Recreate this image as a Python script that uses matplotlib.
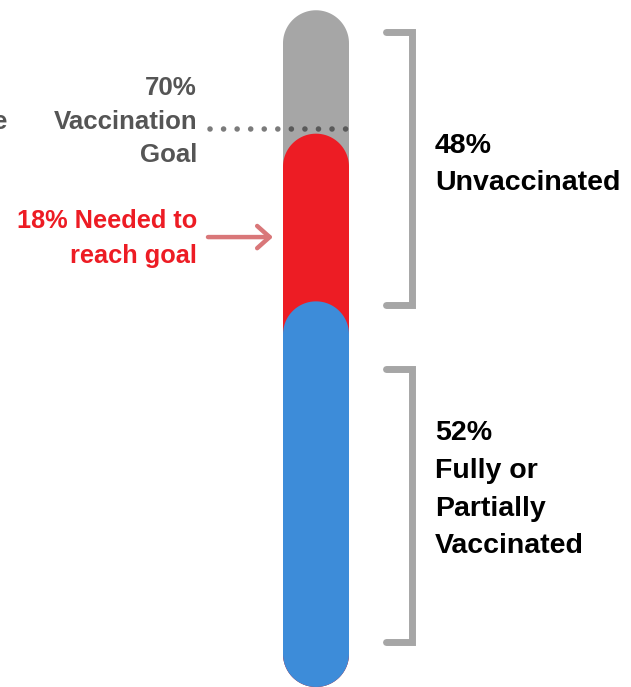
import numpy as np
import matplotlib
matplotlib.use("Agg")
import matplotlib.pyplot as plt
from matplotlib.patches import Polygon

# values shown on the thermometer
vaccinated = 52
needed = 18
goal = vaccinated + needed
unvaccinated = 100 - vaccinated

goal_label = f"{goal}%\nVaccination\nGoal"
needed_label = f"{needed}% Needed to\nreach goal"
unvacc_label = f"{unvaccinated}%\nUnvaccinated"
vacc_label = f"{vaccinated}%\nFully or\nPartially\nVaccinated"

# colours
GRAY = "#a6a6a6"
RED = "#ed1c24"
BLUE = "#3d8cd9"
ARROW = "#d97779"
TEXT_GRAY = "#555555"

# visible window of the bar (percent units) and top of the gray track
Y_LO, Y_HI = 10.6, 84.35
TRACK_TOP = 83.25

plt.rcParams["font.family"] = ["Liberation Sans", "DejaVu Sans"]
plt.rcParams["font.weight"] = "bold"

fig = plt.figure(figsize=(6.31, 6.87), dpi=100)
ax = fig.add_axes([0, 0, 1, 1])
ax.set_xlim(0, 631)
ax.set_ylim(Y_LO, Y_HI)
ax.axis("off")

bar_x0, bar_x1 = 283, 349
rx = (bar_x1 - bar_x0) / 2
ry = rx * (Y_HI - Y_LO) / 687


def pill(y0, y1, color):
    t = np.linspace(0, np.pi, 60)
    cx = (bar_x0 + bar_x1) / 2
    top = np.column_stack([cx + rx * np.cos(t), y1 - ry + ry * np.sin(t)])
    bot = np.column_stack([cx - rx * np.cos(t), y0 + ry - ry * np.sin(t)])
    ax.add_patch(Polygon(np.vstack([top, bot]), closed=True, facecolor=color, lw=0, zorder=2))


pill(Y_LO, TRACK_TOP, GRAY)
pill(Y_LO, goal, RED)
pill(Y_LO, vaccinated, BLUE)

# dotted goal line
ax.plot([210, 349], [goal + 0.55, goal + 0.55], color="#2b2b2b", alpha=0.62, lw=4.0,
        linestyle=(0, (0.01, 2.43)), dash_capstyle="round", zorder=3)


def bracket(y0, y1):
    ax.plot([385.5, 411.5, 411.5, 385.5], [y1, y1, y0, y0], color=GRAY, lw=5,
            solid_capstyle="round", solid_joinstyle="miter", zorder=2)


bracket(vaccinated - 0.4, 80.9)
bracket(15.4, 44.7)

# labels (y = baseline of the last line)
ax.text(197, 66.94, goal_label, ha="right", va="baseline", color=TEXT_GRAY,
        fontsize=18.6, fontweight="bold", linespacing=1.5)
ax.text(7, 70.48, "e", ha="right", va="baseline", color=TEXT_GRAY,
        fontsize=18.6, fontweight="bold")
ax.text(197, 56.09, needed_label, ha="right", va="baseline", color=RED,
        fontsize=18.3, fontweight="bold", linespacing=1.58)
ax.annotate("", xy=(273, 58.9), xytext=(208, 58.9),
            arrowprops=dict(arrowstyle="->,head_length=0.45,head_width=0.4",
                            color=ARROW, lw=3.2, mutation_scale=20,
                            shrinkA=0, shrinkB=0, capstyle="round",
                            joinstyle="round"))
ax.text(435, 63.93, unvacc_label, ha="left", va="baseline", color="black",
        fontsize=20.5, fontweight="bold", linespacing=1.58)
ax.text(435, 24.96, vacc_label, ha="left", va="baseline", color="black",
        fontsize=20.5, fontweight="bold", linespacing=1.58)

fig.savefig("out.png", dpi=100, facecolor="white")
plt.close(fig)
